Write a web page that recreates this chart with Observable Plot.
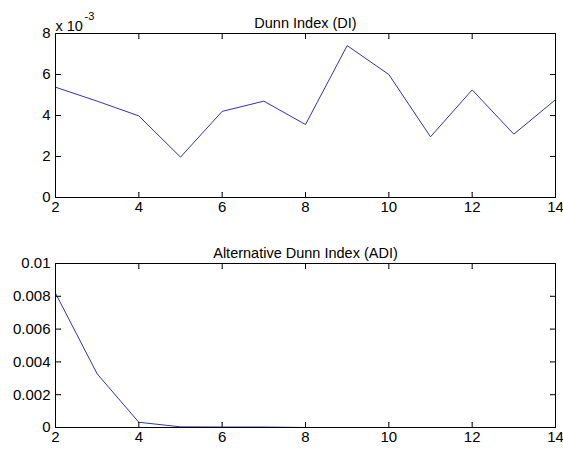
<!DOCTYPE html>
<html>
<head>
<meta charset="utf-8">
<script src="https://cdn.jsdelivr.net/npm/d3@7"></script>
<script src="https://cdn.jsdelivr.net/npm/@observablehq/plot@0.6"></script>
<style>
  body { margin: 0; background: #fff; }
  #chart { width: 563px; height: 450px; }
  svg { display: block; }
</style>
</head>
<body>
<div id="chart"></div>
<script>
// Data
const clusters = [2, 3, 4, 5, 6, 7, 8, 9, 10, 11, 12, 13, 14];
const dunnIndex = [0.00538, 0.0047, 0.00398, 0.00197, 0.0042, 0.0047, 0.00356, 0.00741, 0.0060, 0.00296, 0.00525, 0.00309, 0.00477];
const altDunnIndex = [0.00819, 0.00327, 0.00032, 0.00004, 0.00003, 0.00003, 0, 0, 0, 0, 0, 0, 0];
const xTicks = [2, 4, 6, 8, 10, 12, 14];
const diTicks = [0, 0.002, 0.004, 0.006, 0.008];
const adiTicks = [0, 0.002, 0.004, 0.006, 0.008, 0.01];
const titleDI = "Dunn Index (DI)";
const titleADI = "Alternative Dunn Index (ADI)";

const font = "'Liberation Sans', Arial, sans-serif";
const lineColor = "#3333b3";

function panel({values, yTicks, yDomain, yFormat, title, height, marginBottom, exponent}) {
  const data = clusters.map((c, i) => ({x: c, y: values[i]}));
  const [y0, y1] = yDomain;
  const tick = {length: 5, r: 0, anchor: "start", stroke: "black", strokeWidth: 1};
  const marks = [
    Plot.line(data, {x: "x", y: "y", stroke: lineColor, strokeWidth: 1}),
    // tick labels
    Plot.axisX({anchor: "bottom", ticks: xTicks, tickSize: 0, tickPadding: 4, tickFormat: d => d, fontSize: 15, label: null}),
    Plot.axisY({anchor: "left", ticks: yTicks, tickSize: 0, tickPadding: 5, tickFormat: yFormat, fontSize: 15, label: null}),
    // inward tick marks on all four sides
    Plot.vector(xTicks, {...tick, x: d => d, y: y0, rotate: 0}),
    Plot.vector(xTicks, {...tick, x: d => d, y: y1, rotate: 180}),
    Plot.vector(yTicks, {...tick, x: 2, y: d => d, rotate: 90}),
    Plot.vector(yTicks, {...tick, x: 14, y: d => d, rotate: -90}),
    Plot.frame({stroke: "black", strokeWidth: 1}),
    Plot.text([title], {frameAnchor: "top", dy: -16, text: d => d, fontSize: 14.5}),
  ];
  if (exponent) {
    marks.push(Plot.text(["x 10"], {frameAnchor: "top-left", dx: 0, dy: -13, textAnchor: "start", fontSize: 14.5, text: d => d}));
    marks.push(Plot.text(["-3"], {frameAnchor: "top-left", dx: 29, dy: -21, textAnchor: "start", fontSize: 11, text: d => d}));
  }
  return Plot.plot({
    width: 563,
    height,
    marginLeft: 55,
    marginRight: 8,
    marginTop: 33,
    marginBottom,
    style: {fontFamily: font, fontSize: "14px", color: "black", background: "white", overflow: "visible"},
    x: {domain: [2, 14], axis: null},
    y: {domain: yDomain, axis: null},
    marks
  });
}

const topPanel = panel({
  values: dunnIndex, yTicks: diTicks, yDomain: [0, 0.008],
  yFormat: d => Math.round(d * 1000), title: titleDI,
  height: 230, marginBottom: 33, exponent: true
});
const bottomPanel = panel({
  values: altDunnIndex, yTicks: adiTicks, yDomain: [0, 0.01],
  yFormat: d => d === 0 ? "0" : String(+d.toFixed(3)), title: titleADI,
  height: 220, marginBottom: 23, exponent: false
});
document.getElementById("chart").append(topPanel, bottomPanel);
</script>
</body>
</html>
